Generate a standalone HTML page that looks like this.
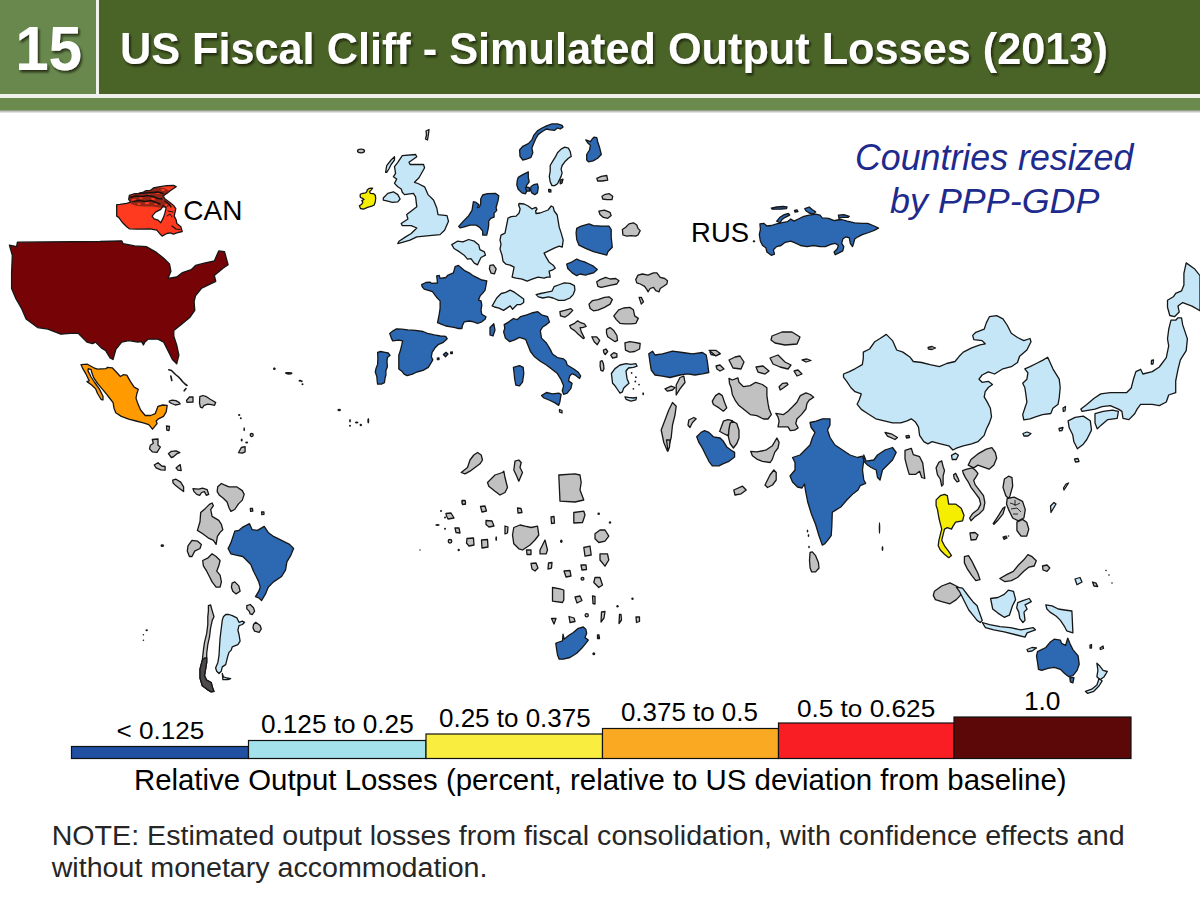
<!DOCTYPE html>
<html><head><meta charset="utf-8">
<style>
html,body{margin:0;padding:0;background:#fff;}
body{width:1200px;height:898px;position:relative;overflow:hidden;font-family:"Liberation Sans",Arial,Helvetica,sans-serif;}
svg{position:absolute;left:0;top:0;font-family:"Liberation Sans",Arial,Helvetica,sans-serif;}
</style></head>
<body>
<svg width="1200" height="898" viewBox="0 0 1200 898">
<defs>
<filter id="ds" x="-5%" y="-20%" width="110%" height="150%"><feDropShadow dx="1.6" dy="2.2" stdDeviation="1.3" flood-color="#0a1400" flood-opacity="0.75"/></filter>
<linearGradient id="shd" x1="0" y1="0" x2="0" y2="1"><stop offset="0" stop-color="#000" stop-opacity="0.35"/><stop offset="1" stop-color="#000" stop-opacity="0"/></linearGradient>
</defs>
<rect x="0" y="0" width="1200" height="98" fill="#f0f0ec"/>
<rect x="0" y="0" width="96" height="94" fill="#68884e"/>
<rect x="99" y="0" width="1101" height="94" fill="#4a6427"/>
<rect x="0" y="98" width="1200" height="12.5" fill="#6b8b4e"/>
<rect x="0" y="110.5" width="1200" height="3" fill="url(#shd)"/>
<text x="15.14" y="70" font-size="62.32" font-weight="bold" textLength="66.93" lengthAdjust="spacingAndGlyphs" fill="#fff" filter="url(#ds)">15</text>
<text x="119.9" y="63.5" font-size="45.0" font-weight="bold" textLength="987.96" lengthAdjust="spacingAndGlyphs" fill="#fff" filter="url(#ds)">US Fiscal Cliff - Simulated Output Losses (2013)</text>
<g id="legend" stroke="#111" stroke-width="1.2">
<rect x="71.5" y="746.5" width="177" height="12" fill="#2150a3"/>
<rect x="248.5" y="740.5" width="177.5" height="18" fill="#a3e2ea"/>
<rect x="426" y="734" width="176.5" height="24.5" fill="#f9ed3f"/>
<rect x="602.5" y="728.5" width="176" height="30" fill="#faaa22"/>
<rect x="778.5" y="723" width="175.5" height="35.5" fill="#f91d24"/>
<rect x="954" y="717" width="177" height="41.5" fill="#5c0808"/>
</g>
<g id="map" stroke="#161616" stroke-width="1.3" stroke-linejoin="round">
<path fill="#760406" d="M9.4,245.1 16.6,246.6 17.4,242.2 100,241.5 121.7,240.8 123.2,243.7 134.7,245.9 146.3,246.6 156.4,252.4 163.7,258.2 169.5,263.9 170.9,271.2 168,278.4 176.7,277 182.5,272.6 191.2,269.7 195.5,265.4 204.2,263.2 214.3,261 218.7,250.9 224.5,251.6 228.1,264.7 223,268.3 214.3,275.5 215.8,281.3 210,284.2 201.3,288.5 195.5,295.8 194.1,301.6 194.8,310.3 189.7,317.5 181,324.7 173.8,330.5 173.8,336.3 176.7,345 178.9,355.1 176.7,363.8 172.4,359.5 168,350.8 163.7,342.1 157.9,339.2 148,339.2 145,342 143.4,345 141.5,341.5 137.6,342.1 128.9,340.6 121.7,342.1 115.9,349.3 113,359.5 110.1,358 105.8,350.8 101.3,347.9 95.5,342.1 92.6,343.6 86.9,342.1 78.2,333.4 70.9,333.4 60.8,334.2 47.8,329.1 37.6,327.6 26.1,319 21.7,308.8 15.9,298.7 11.6,288.6 11.6,272.6 12.3,255.3Z"/>
<path fill="#ff3a1e" d="M116.7,204.7 116.7,216.1 118.7,217.4 122.7,222.8 126.7,226.8 129.4,228.8 136.7,229.1 150.1,228.8 156.8,230.1 160.8,234.8 162.1,236.1 166.8,233.5 170.2,232.8 173.5,234.1 176.8,232.8 182.2,231.5 180.9,226.8 176.8,223.4 176.2,220.1 174.2,216.1 175.8,208.7 173.5,205.4 170.2,202.7 167.5,200.7 164.8,198.7 162.8,196 166.8,193.4 170.2,190.7 176.2,186.7 173.5,185.3 166.8,185.7 160.1,186.7 153.4,188 150.1,190.7 146.1,190.7 143.4,192 138.7,193.4 133.4,194 129.4,195.4 128.7,199.4 130.7,202.1 126.7,203.4 120,204.4Z"/>
<path fill="#ffffff" d="M152.1,216.1 155.5,212.1 160.8,209.4 163.5,205.4 166.1,208.1 164.8,213.4 163.5,217.4 162.1,220.1 160.8,222.8 158.1,220.1 154.1,218.8Z"/>
<path fill="#ff9a00" d="M81,364.6 87.4,364.2 93.8,367.8 97.5,369.2 105.7,368.7 107.6,367.4 112.2,367.8 115.8,371.5 120.4,376.5 123.2,374.7 126.8,375.2 130.5,381.6 134.2,387.1 138.3,389.4 136.9,393.5 136,398.1 137.8,403.6 140.6,410 145.2,415.5 150.7,415.5 155.2,413.7 158,406.3 162.6,405 167.2,405.4 166.2,411.8 163.5,416.4 158,419.2 156.2,421 157.1,423.7 152.5,429.2 148.8,424.7 143.3,422.8 136,421 128.7,419.2 121.3,416.4 115.8,412.7 114,408.2 113.1,402.7 110.3,399 106.7,394.4 103,389.8 97.5,383.4 93.8,377.9 92,373.3 91.1,369.7 88.3,368.7 87.9,370.6 91.1,377 94.7,382.5 99.3,388.9 103,396.2 103,399.9 101.2,399.5 97.5,393.5 95.7,388.9 92,385.2 87,381.6 89.2,380.7 87.4,377 85.6,373.3 82.8,368.7Z"/>
<path fill="#c1c1c1" d="M169.2,401 172.2,400.1 175.9,400.7 179,402.3 180.2,403.8 178.4,404.4 175.3,405 171.6,403.5 169.5,402.3Z"/>
<path fill="#c1c1c1" d="M186.5,400.5 189.5,397 193,397 193,402 187,402.3Z"/>
<path fill="#c1c1c1" d="M199.8,396.7 202.9,395.5 206.5,396.7 210.2,399.2 213.3,401 215.7,402.6 214.5,405.3 211.4,404.7 207.8,404.1 204.1,405.3 202.3,407.8 200.4,407.2 199.5,402.9Z"/>
<path fill="#c1c1c1" d="M152.3,439.5 158,439 158,445.2 160.4,447 157,452.3 152.3,451.8 149.5,448.9 150.4,445.2 153.3,443.3Z"/>
<path fill="#c1c1c1" d="M168.4,453.7 171.3,451.3 176,450.8 179.8,452.7 176.9,453.7 173.1,457 171.3,457.5Z"/>
<path fill="#c1c1c1" d="M154.2,465 158,462.7 161.8,466 165.1,466.5 165.1,470.2 160.8,469.8 156.1,467.9Z"/>
<path fill="#c1c1c1" d="M176,467.9 180.2,464.6 181.2,470.7 177.9,470.2Z"/>
<path fill="#c1c1c1" d="M172.7,480.2 176,479.2 180.7,482.1 183.6,486.8 183.6,491.6 179.8,488.7 175,484.9 173.1,483Z"/>
<path fill="#c1c1c1" d="M193,488.7 198.7,489.2 202.5,488.2 207.2,489.7 208.7,494.4 206.3,495.3 204.4,491.6 201.6,492.5 199.7,495.3 196.8,494.4 194,491.6Z"/>
<path fill="#c1c1c1" d="M217.7,486.8 221.4,483.5 224.3,484.9 229,486.8 236.6,486.8 242.3,490.6 244.2,494.4 242.3,500.1 238.5,503.9 234.7,509.5 230.9,511.4 229,507.7 227.1,502 223.3,498.2 219.5,495.3 217.2,491.6Z"/>
<path fill="#c1c1c1" d="M238.5,452.7 241.3,447.5 245.1,446.6 245.1,451.8 242.3,453.2Z"/>
<path fill="#c1c1c1" d="M166.5,426 169.5,426.5 169,430.5 166.8,430Z"/>
<path fill="#c1c1c1" d="M212.1,503 213.4,505.7 210.7,509.7 212.1,516.4 218.8,520.4 221.4,524.4 222.8,529.7 220.1,532.4 217.4,536.4 216.1,544.4 213.4,540.4 208.1,537.8 202.7,533.8 197.4,530.4 200,521.7 200.7,512.4 205.4,508.4 209.4,504.4Z"/>
<path fill="#c1c1c1" d="M188,545.8 192,540.4 197.4,541.1 201.4,544.4 200,548.5 194.7,551.1 192,556.5 189.4,556.5 187.3,551.1Z"/>
<path fill="#c1c1c1" d="M202.7,560.5 208.1,557.8 212.1,553.8 216.1,556.5 220.1,560.5 218.8,565.8 216.7,571.2 220.1,575.2 221.4,581.9 220.1,587.2 216.1,587.2 212.1,581.9 209.4,576.5 206.7,571.2 203.4,565.8Z"/>
<path fill="#c1c1c1" d="M232.1,583.2 234.8,581.9 238.8,585.9 240.1,591.2 236.1,593.9 232.8,591.2 231.4,587.2Z"/>
<path fill="#2d68b3" d="M228.1,548.5 230.8,543.1 234.8,531.1 238.8,530.4 242.8,527.1 249.5,523.7 252.2,529.7 257.5,530.4 264.2,526.4 268.2,532.4 273.5,536.4 281.6,540.4 289.6,544.4 293.6,548.5 290.9,555.1 286.9,561.8 285.6,569.8 281.6,576.5 273.5,581.9 268.2,587.2 265.5,593.9 261.5,600.6 258.8,597.9 255.5,596.6 258.8,591.2 260.2,587.2 258.8,581.9 256.2,576.5 253.5,571.2 250.8,564.5 246.8,560.5 242.8,556.5 236.1,555.1 230.8,553.8Z"/>
<path fill="#c1c1c1" d="M246.8,605.6 250.2,604.5 253.5,607.8 254.6,611.1 252.4,614.5 250.2,613.9 249.1,611.1 246.8,608.9Z"/>
<path fill="#c1c1c1" d="M253.5,624.5 255.7,622.3 260.2,625.6 261.3,629 259.1,632.3 254.6,631.2 253,627.9Z"/>
<path fill="#c5e6f6" d="M225.7,614.5 229,614.5 232.3,615.6 236.8,617.8 239,622.3 242.4,621.2 244.6,622.3 242.4,624.5 239,625.6 237.9,630.1 239,634.5 240.1,641.2 237.9,644.6 232.3,646.8 231.2,650.1 229,652.4 227.9,655.7 226.8,660.2 225.7,664.6 222.3,666.9 221.2,671.3 219,673.5 216.7,671.3 215.6,668 217.9,662.4 219,655.7 219.5,646.8 220.1,637.9 221.2,629 222.3,620.1 223.4,616.7Z"/>
<path fill="#c5e6f6" d="M222.3,673.5 223.4,676.9 226.8,678 230.7,678.6 227.9,679.7 222.9,679.7Z"/>
<path fill="#c1c1c1" d="M208.4,605.6 210.6,605 212.3,611.1 214,616.7 212.3,620.1 210.6,627.9 209.5,636.8 207.8,644.6 206.7,653.5 206.7,662.4 205.6,669.1 204.5,675.8 206.7,680.2 211.2,682.5 212.3,686.9 214,691.4 211.2,691.9 206.7,689.1 202.3,685.8 200,678 200,669.1 202.3,660.2 203.4,650.1 204.5,642.3 206.7,633.4 207.8,624.5 207.8,616.7 208.4,611.1Z"/>
<path fill="#4e4a4a" d="M204.5,658 206.8,658 206.7,662.4 205.6,669.1 204.5,675.8 206.7,680.2 211.2,682.5 212.3,686.9 214,691.4 211.2,691.9 206.7,689.1 202.3,685.8 200,678 200,669.1 202.3,660.2Z"/>
<path fill="#c1c1c1" d="M250.3,508.3 252.5,508.5 252.8,511 250.6,511.4Z"/>
<path fill="#c1c1c1" d="M261.6,511.8 263.9,512 264,514.4 261.8,514.6Z"/>
<path fill="#f5ee00" d="M360.5,194 362.9,193.3 365.6,192.9 366.8,191.7 367.2,190.1 369.1,188.4 372.6,188.2 371.1,190.1 369.5,191.7 370.3,193.3 373.4,193.6 375.3,195.2 375.7,198.3 375.3,201.8 374.2,205 371.8,206.1 367.5,207.3 363.6,209.2 360.5,208.5 359.4,205.7 361.7,204.2 362.9,202.2 361.7,200.7 364,199.5 362.5,198.3 360.5,197.5 360.1,195.6Z"/>
<path fill="#c5e6f6" d="M402.3,155.6 415.6,154.5 416.8,156.7 409,162.3 410.1,164.5 423.5,164.5 424.6,167.8 419,177.8 414.5,182.3 418,183.5 424.6,186.8 428,194.6 433.5,200 436.8,208 438,214.6 447,215.7 448.5,221.3 444.6,230.2 440,234.6 426.8,235.8 416.8,236.9 410,240.2 402.3,242.4 397.8,243.6 399,241.3 405.6,236.9 411.2,233.5 416.8,228 411.2,225.7 402.3,225.7 401.2,223.5 407.9,219 406.7,214.6 412.3,210.2 416.8,206.8 415.6,196.8 413.4,193.4 404.5,194.6 402.3,192.3 401.2,189 397.8,186.8 394.5,183.4 396.7,179 393.4,176.7 395.6,173.4 394.5,166.7 397.8,162.3Z"/>
<path fill="#c5e6f6" d="M385.6,172.3 386.7,165.6 391.1,160 394.5,156.7 394.5,160 391.1,164.5 388.9,169 386.7,172.3Z"/>
<path fill="#c5e6f6" d="M383.3,198 387.8,193.4 393.4,191.8 397.8,194.6 400.1,199 397.8,201.8 392.3,202.3 387.8,201.2 383.3,200.1Z"/>
<path fill="#c1c1c1" d="M426,131 429,129.5 428.5,134 427.5,140 425.5,139 426.5,135Z"/>
<path fill="#2d68b3" d="M458.7,226.4 463.4,221.1 468.7,215.7 472,210.4 473.4,201.7 476.1,202.4 478.7,204.4 477.4,207.7 479.4,207 480.7,203.7 480.7,199 482.7,195 487.4,193.7 495.4,193.4 498.8,195.7 498.1,200.4 496.8,205 496.1,207.7 496.8,210.4 494.1,213.1 494.1,217.1 490.7,218.4 488.7,221.1 488.7,225.1 488.1,229.1 486.7,235.1 482.7,235.1 482.7,231.1 480.1,227.8 476.1,225.1 470,225.1 463.4,227.1 460,227.8Z"/>
<path fill="#c5e6f6" d="M451.8,244.6 457.4,241.2 463,241.8 468.6,239.5 474.3,241.2 478.8,245.1 479.9,249.6 484.4,251.9 485.5,255.2 481,257.5 478.8,262 477.6,264.8 474.3,263.1 470.9,258.6 467.5,259.2 464.1,255.2 459.6,251.9 454,248.5Z"/>
<path fill="#c1c1c1" d="M490,265.4 493.4,264.8 496.2,268.8 494.5,273.8 491.1,273.2 489.4,268.8Z"/>
<path fill="#c5e6f6" d="M519.1,203.5 524.1,204 528.1,206 532.1,209 534.1,208 536.1,207.5 537.1,209 535.6,211 536.1,213.5 540.1,213 544.1,211.5 548.1,210 551.2,206 553.2,207 554.2,211 557.2,215 558.2,221.1 559.2,227.1 561.2,233.1 563.2,240.1 562.2,247.1 559.2,246.1 554.2,248.1 548.1,251.1 544.1,253.1 546.1,257.2 549.1,262.2 553.2,265.2 555.2,268.2 552.2,270.2 549.1,271.2 550.2,277.2 547.1,277.2 544.1,278.2 538.1,277.2 532.1,279.2 527.1,281.2 522.1,279.2 516.1,278.2 512.1,277.2 513.1,272.2 514.1,267.2 510.1,265.2 506,264.2 503,261.2 502,255.2 500,249.1 501,244.1 500,240.1 501,235.1 505,233.1 506,228.1 507,223.1 508,218.1 511.1,216.6 516.1,216.1 519.1,213 520.1,209 518.6,205Z"/>
<path fill="#2d68b3" d="M517.3,180.1 518.2,177.4 522.8,174.6 526.4,172.8 528.3,171.9 528.3,177.4 529.2,181.9 526.4,185.6 527.4,190.1 525.5,193.8 521.9,192.9 518.2,189.2 516.8,184.7Z"/>
<path fill="#2d68b3" d="M525.5,187.4 529.2,187.4 529.6,191.1 526.4,191.1Z"/>
<path fill="#2d68b3" d="M531,186.5 533.7,184.7 537.4,183.8 538.3,187.4 537.4,192.9 534.7,194.7 531.9,192.9 530.5,190.1Z"/>
<path fill="#2d68b3" d="M519.6,150 522.8,146.3 528.3,143.6 531.9,139.9 533.7,135.4 537.4,130.8 542,128 546.5,125.8 552,123.9 557.5,123.9 562.1,125.3 563,127.1 560.2,129 557.5,128 554.7,130.3 550.2,129.9 546.5,129 542,131.7 538.3,134.4 535.6,139 533.7,143.6 531.9,148.1 532.8,152.7 531,157.3 526.4,159.1 522.8,160 520,156.4Z"/>
<path fill="#c5e6f6" d="M550.2,165.5 552.9,160.9 555.7,156.4 557.5,152.7 561.1,149.1 564.8,147.2 568.4,148.1 570.3,151.8 571.2,156.4 568.4,158.2 564.8,161.8 562.1,165.5 561.1,169.1 562.1,172.8 561.1,176.4 559.3,180.1 557.5,183.8 554.7,185.6 552,185.6 550.2,181.9 549.3,176.4 550.2,171Z"/>
<path fill="#2d68b3" d="M560.2,180.1 563,179.2 562.1,182.8 560.2,183.8Z"/>
<path fill="#2d68b3" d="M548.6,189.4 550.8,189.6 550.9,192 548.8,191.8Z"/>
<path fill="#2d68b3" d="M585.8,139.9 588.5,140.8 590.4,141.7 592.2,139 594,137.2 596.8,137.6 597.7,141.7 599.5,147.2 601.3,154.5 597.7,158.2 593.1,160.9 588.5,161.8 586.7,160 586.7,154.5 589.5,150 590.4,145.4 587.6,142.7Z"/>
<path fill="#c1c1c1" d="M596.8,178.3 601.3,176.4 606.8,175.5 607.7,180.1 602.2,181 597.7,181Z"/>
<path fill="#c1c1c1" d="M602,196.3 605.3,194.3 609.3,193.7 612.7,196.3 612,199.7 606.7,199.7 602.7,199Z"/>
<path fill="#c1c1c1" d="M598.9,211.2 604.5,210.1 610,212.3 611.2,215.6 607.8,218.3 603.4,217.4 600,214.5Z"/>
<path fill="#c1c1c1" d="M622.4,229.5 625.7,227.2 629,223.9 633.5,222.8 636.8,225 638,228.4 640.2,230.6 638,235 635.7,236.2 631.3,235.6 626.8,236.2 622.9,235Z"/>
<path fill="#2d68b3" d="M576.7,228.4 581.2,226.1 589,223.9 593.4,225.6 601.2,226.1 609,226.1 611.2,229.5 611.2,237.3 612.3,247.3 607.9,251.7 606.8,255.1 600.1,253.4 593.4,251.7 585.6,248.4 578.9,245.1 576.7,239.5 576.1,232.8Z"/>
<path fill="#2d68b3" d="M566.7,264 572.2,261.8 576.7,259 580,260.7 584.5,261.8 589,264 593.4,266.2 597.3,269.6 593.4,272.9 589,274 585.6,275.1 580,274 576.7,275.7 572.2,272.9 567.8,268.5Z"/>
<path fill="#c1c1c1" d="M596.7,281.8 600.1,279.6 605.7,277.4 610.1,279 615.7,278.5 619,280.7 616.8,284 611.2,285.2 605.7,286.3 601.2,287.4 597.9,286.3Z"/>
<path fill="#c5e6f6" d="M536.1,294.6 540.6,293.5 546.2,292.4 551.9,291.2 554.1,286.7 559.8,284.5 564.3,282.8 569.9,283.4 574.4,285.6 574.9,290.1 573.2,294.6 569.9,298 564.3,300.3 558.6,300.3 553,298 548.5,296.9 542.9,298 538.4,296.9Z"/>
<path fill="#c5e6f6" d="M492.2,305.9 496.7,298 501.2,293.5 505.7,292.4 510.2,290.1 514.7,292.4 519.2,295.7 523.7,299.1 523.7,302.5 520.4,304.7 517,304.7 512.5,309.2 510.2,305.9 506.9,308.1 503.5,310.4 499,308.1 494.5,307Z"/>
<path fill="#c1c1c1" d="M589,304.1 592.3,300.7 597.9,299.6 604.5,297.4 609,296.8 612.3,299.6 610.1,304.1 604.5,307.4 597.9,310.2 593.4,310.8 590.1,308.5Z"/>
<path fill="#c1c1c1" d="M559.9,311.6 564.8,310.4 570.9,308.6 572.8,310.4 568.5,314.7 564.8,317.2 560.5,315.9Z"/>
<path fill="#c1c1c1" d="M635.7,279.6 638,275.1 642.4,274 648,275.1 653.5,272.9 656.9,272.9 660.2,277.4 664.7,278.5 667.5,280.7 666.9,284 663.6,286.3 660.2,288.5 659.1,291.8 655.8,290.7 653.5,287.4 650.2,288.5 648,291.8 646.9,289.6 644.6,286.3 640.2,284 636.8,282.9Z"/>
<path fill="#c1c1c1" d="M639.1,297.4 641.3,297.4 643.5,301.9 641.3,304.1Z"/>
<path fill="#c1c1c1" d="M613.8,315.9 618.7,309.8 623.6,308 629.8,307.4 633.4,309.8 634.7,315.9 638.3,318.4 635.9,323.3 631,323.9 624.9,323.9 620,323.3 616.3,319.6Z"/>
<path fill="#c1c1c1" d="M606.5,329.4 610.1,327.6 613.8,330.6 616.9,335.5 617.5,340.4 615,341.7 611.4,339.2 607.7,336.8 606.5,333.1Z"/>
<path fill="#c1c1c1" d="M624.9,342.9 629.8,341.7 634.7,342.3 640.2,343.5 639.6,349 634.7,351.5 629.8,352.1 625.5,350.2Z"/>
<path fill="#c1c1c1" d="M591.8,336.8 596.7,336.8 599.7,340.4 597.3,344.7 594.2,341.7Z"/>
<path fill="#c1c1c1" d="M569.7,325.7 574.6,323.3 577.7,320.8 580.7,322.7 584.4,323.9 586.2,326.3 582.6,327.6 580.1,327.6 581.3,331.9 584.4,338 583.2,338.6 578.3,334.3 574.6,330.6 570.9,328.2Z"/>
<path fill="#c1c1c1" d="M603.4,350.2 605.9,349 607.7,351.5 605.2,354.5 603.8,352.7Z"/>
<path fill="#c1c1c1" d="M610.8,355.1 613.8,352.7 616.9,353.9 616.9,357 612.6,358.2Z"/>
<path fill="#c1c1c1" d="M600.3,361.3 602.2,360.7 603.4,363.7 604,368.6 602.8,371.1 601,370.5 600.1,366.2Z"/>
<path fill="#c5e6f6" d="M611.4,373.5 615,368.6 620,365 626.1,363.7 631,364.3 635.9,363.7 637.1,366.2 633.4,367.4 628.5,368 626,371 626.5,375 627,378.4 628,380.9 629,383.3 626.1,385.8 623.6,388.2 622.4,391.9 620,393.1 617.5,389.5 615,385.8 612.6,383.3 612,378.4Z"/>
<path fill="#c5e6f6" d="M624.9,396.8 628.5,397.4 633.4,398 636.5,397.4 635.9,399.9 631,401.1 626.1,399.3Z"/>
<path fill="#2d68b3" d="M421.7,284.6 425.9,282.5 430,282.1 431.7,283.4 437.5,283 436.7,275.9 439.2,275.4 440.1,278.4 445.9,277.5 447.6,275.4 453.4,272.9 455.1,266.7 458.4,265.4 460.9,267.5 465.1,270.9 470.1,273.4 473.5,275.9 478.5,278.4 481.8,280 486.8,280.9 486,285.1 485.1,290.1 482.6,293.4 480.1,295.9 478.5,300.1 481,300.9 481.8,305.1 481,310.1 481.8,314.3 486,316.8 485.1,319.3 481.8,321.8 477.6,323.5 473.5,321.8 469.3,321 464.3,321.8 462.6,325.1 461.8,328.5 458.4,328.5 455.1,327.6 450.9,326.8 445.9,326 441.7,324.3 437.5,322.6 438.4,318.5 439.2,314.3 440.1,308.4 440.1,300.9 437.5,298.4 435,295.1 432.5,291.7 427.5,290.1 424.2,289.2 422.1,286.7Z"/>
<path fill="#2d68b3" d="M490,327.5 493.8,323.8 495,330 493,336 490,335Z"/>
<path fill="#2d68b3" d="M389.7,333.4 392.7,331.1 396.5,328.8 401.8,329.2 407.9,329.9 415.4,330.3 423,331.5 427.5,333.4 434.3,334.9 440.4,336 445.7,336.4 447.2,338.7 443.4,342.4 438.1,344.7 435.1,347.7 432.1,352.3 431.3,356.8 432.8,359.9 430.6,363.6 428.3,367.4 423,370.4 416.9,372 412.4,374.2 407.1,375.7 404.1,374.2 401.8,371.2 398.8,368.9 398.8,362.9 398.8,355.3 400.3,350.8 401.8,344.7 402.6,340.9 398.8,340.2 392.7,340.9 391.2,337.9Z"/>
<path fill="#2d68b3" d="M377.6,352.3 380.6,351.5 385.1,352.3 388.2,353 390.1,355.3 387.4,357.6 387,361.4 387.4,366.7 385.9,370.4 385.9,375 385.1,378 384.4,382.6 381.4,384.1 377.6,384.1 377.2,381 376.8,376.5 375.3,372 376.1,368.2 377.6,364.4 377.9,358.3Z"/>
<path fill="#2d68b3" d="M443.4,354.5 446,352.3 448,354 445.5,356.8Z"/>
<path fill="#2d68b3" d="M437.3,358.2 439,357.8 439,359.5 437.5,359.6Z"/>
<path fill="#2d68b3" d="M450.6,352.2 452.3,351.9 452.3,353.5 450.8,353.6Z"/>
<path fill="#2d68b3" d="M504.2,324.6 508.5,322.1 513.4,318.5 517,319.7 520.7,316.6 526.8,314.8 531.7,313 537.8,311.7 541.5,314.8 547.6,316.6 549.5,322.1 546.4,324.6 542.7,327 540.3,330.7 541.5,338.1 546.4,343 550.1,349.1 552.5,354 557.4,357.6 563.6,358.9 566,361.3 567.2,365 573.4,368.7 578.3,372.3 580.7,376 579.5,378.5 575.8,375.4 572.1,373.6 569.7,376 568.5,380.9 572.1,383.4 570.9,388.3 567.2,393.1 563.6,394.4 562.3,390.7 563.6,385.8 561.1,379.7 557.4,373.6 551.3,368.7 546.4,365 540.3,361.3 534.2,356.4 530.5,351.5 528.1,345.4 525.6,339.3 519.5,337.4 514.6,339.9 509.7,341.7 505.4,338.1 503.6,331.9 504.8,328.3Z"/>
<path fill="#2d68b3" d="M513.4,367.4 519.5,365.6 523.2,367.4 523.8,373.6 522.5,382.1 519.5,385.8 515.8,385.2 514.6,378.5 514,372.3Z"/>
<path fill="#2d68b3" d="M541.5,395.6 546.4,392.5 552.5,393.8 558.7,393.1 561.1,394.4 559.9,401.7 558.7,405.4 555,402.9 550.1,400.5 544,398Z"/>
<path fill="#2d68b3" d="M759.9,223.8 763.7,223.3 766.9,226 771.3,225.5 776.7,223.8 781,222.8 787.5,221.7 790.8,219 794,221.1 798.3,219 803.8,216.3 809.2,215.2 815.7,214.1 820,215.2 822.2,217.9 828.7,218.4 834.1,220.6 837.3,220 841.7,219.5 847.1,221.1 854.7,222.8 862.3,223.3 867.7,223.3 874.2,226 878.5,228.2 874.2,230.3 868.8,232.5 862.3,234.7 857.9,236.8 854.7,239 853.6,243.3 852.5,246.6 850.3,243.3 849.3,237.9 846,236.8 842.8,239 841.7,243.3 843.8,246.6 842.8,250.9 838.4,253.1 835.2,254.7 834.1,252 837.3,248.8 838.4,245.5 835.2,243.3 830.8,244.4 825.4,246.6 820,246.6 813.5,245.5 807,246.6 800.5,245.5 796.2,243.3 790.8,241.2 785.3,242.3 781,245.5 776.7,246.6 773.4,249.8 774.5,254.2 771.3,255.3 766.9,252 765.8,247.7 762.6,245.5 760.4,241.2 759.3,234.7 760.4,229.3Z"/>
<path fill="#2d68b3" d="M771.3,208.1 776.7,207 783.2,206.5 787,207 786.4,208.7 781,209.2 772.3,209.2Z"/>
<path fill="#2d68b3" d="M776.7,221.1 779.9,217.3 784.3,214.6 788.6,213.5 789.7,215.2 785.3,217.3 782.1,219.5 779.9,222.8Z"/>
<path fill="#2d68b3" d="M804.8,208.7 809.2,207 812.4,209.8 815.7,211.9 813.5,214.1 809.2,213 805.9,210.8Z"/>
<path fill="#2d68b3" d="M838.4,215.2 843.8,214.6 849.3,216.3 848.2,217.3 841.7,217.3 839,218.4Z"/>
<path fill="#2d68b3" d="M794.5,210.5 797,209.8 798,211.5 795,212Z"/>
<path fill="#2d68b3" d="M648.8,353.8 652.5,351.2 655,355 662.5,353.8 672.5,351.2 682.5,352.5 692.5,353.8 702.5,352.5 706.2,355 707.5,362.5 708.8,372.5 702.5,373.8 695,375 687.5,373.8 680,375 670,377.5 662.5,376.2 655,375 651.2,370 650,362.5Z"/>
<path fill="#c1c1c1" d="M665,388.8 671.2,386.2 675,387.5 672.5,390 667.5,391.2Z"/>
<path fill="#c1c1c1" d="M676.2,385 680,377.5 683.8,376.2 685,382.5 680,388.8 676.2,395Z"/>
<path fill="#c1c1c1" d="M672.5,402.5 676.2,406.2 675,415 672.5,425 671.2,437.5 667.5,451.2 663.8,442.5 661.2,430 665,420 668.8,410Z"/>
<path fill="#c1c1c1" d="M688.8,420 693.8,417.5 696.2,418.8 692.5,422.5 690,427.5 688,425Z"/>
<path fill="#2d68b3" d="M696.7,436.8 701.1,432.4 704.5,430.7 708.9,432.4 713.4,436.8 720.1,438 723.4,441.3 726.8,446.9 731.2,450.2 734.6,452.4 734.6,456.9 729,461.3 723.4,463.6 719,465.8 712.3,465.8 708.9,461.3 705.6,454.7 702.3,448 698.9,442.4Z"/>
<path fill="#c1c1c1" d="M712.3,401.2 715.6,395.6 719,393.4 722.3,395.6 724.5,402.3 726.8,407.9 723.4,411.2 719,407.9 713.4,404.5Z"/>
<path fill="#c1c1c1" d="M720.1,430.2 723.4,421.2 727.9,419.6 732.3,420.7 730.1,425.7 729,432.4 727.9,435.7 723.4,433.5 719.5,431.3Z"/>
<path fill="#c1c1c1" d="M730.1,423.5 732.3,421.2 736.8,423.5 739,430.2 739,438 736.8,443.5 733.4,448 730.1,443.5 728.4,436.8 729,429Z"/>
<path fill="#c1c1c1" d="M729,378.4 732.3,380 737.9,377.8 739,382.3 743.5,386.7 750.2,385.6 755.7,382.3 762.4,384.5 766.9,387.8 766.9,395.6 768,403.4 769.1,409 771.3,414.6 768,419 763.5,419 756.8,415.7 750.2,414.6 744.6,410.1 739,405.6 735.7,401.2 732.3,394.5 731.2,387.8 729.5,383.4Z"/>
<path fill="#c1c1c1" d="M710,352 715,351 720,354 716,355.5 711,354.5Z"/>
<path fill="#c1c1c1" d="M716,366 720,365 724,369 720,371 717,369Z"/>
<path fill="#c1c1c1" d="M729,360 735,357 740,356 744,362 741,369 733,368Z"/>
<path fill="#c1c1c1" d="M756,367 763,366 769,371 765,374 758,372Z"/>
<path fill="#c1c1c1" d="M770,358 778,355 785,362 791,365 788,369 780,367 773,364Z"/>
<path fill="#c1c1c1" d="M772,336 782,332 792,332 800,337 797,344 785,345 775,343 771,340Z"/>
<path fill="#c1c1c1" d="M802,360 807,359 811,360.5 806,362Z"/>
<path fill="#c1c1c1" d="M794,371 798,370 802,374 797,376Z"/>
<path fill="#c1c1c1" d="M779.1,386.7 782.5,383.4 786.9,382.8 788,384.5 783.6,387.8 780.2,390Z"/>
<path fill="#c1c1c1" d="M709.1,350.3 715.8,350.3 720.2,353.6 715.8,355.9Z"/>
<path fill="#c1c1c1" d="M775.8,413.4 783.6,414.6 788,411.2 792.5,406.8 796.9,402.3 800.3,395.6 805.9,392.8 810.3,394.5 813.7,397.3 809.2,400.1 807,403.4 805.9,409 801.4,414.6 796.9,419 795.8,423.5 798.1,427.9 794.7,430.2 790.3,430.7 788,426.8 783.6,426.8 778,426.8 779.1,421.2 778,416.8Z"/>
<path fill="#c1c1c1" d="M750.7,451.3 756.8,451.9 765.7,450.2 772.4,445.7 776.9,438 779.1,442.4 778,448 774.7,452.4 772.4,459.1 770.2,462.5 762.4,461.3 756.8,459.1 752.4,455.8Z"/>
<path fill="#c1c1c1" d="M765,485 770,475 773.8,470 776.2,472.5 776.2,480 772.5,485 767.5,487.5Z"/>
<path fill="#c1c1c1" d="M733.8,490 742.5,486.2 746.2,490 741.2,493.8 735,495Z"/>
<path fill="#2d68b3" d="M810,422.5 816.2,421.2 822.5,418.8 830,418.8 830,425 827.5,430 830,437.5 835,445 842.5,450 850,455 857.5,457.5 862.5,456.2 863.8,460 862.5,470 863.8,480 865.7,483.3 860.2,485.6 858,490 853.5,493.4 846.8,500 841.2,506.7 835.7,510.1 832.3,512.3 831.8,526.8 831.2,535.7 827.9,540.1 824.5,544 822.3,545.1 819,535.7 815.6,524.5 811.2,513.4 807.8,502.3 805.6,491.1 804.5,484 802,488 797.5,487 792.5,482 790,476 795,470 795,462.5 792.5,457.5 800,455 805,450 810,445 812.5,437.5 815,432.5 811.2,427.5Z"/>
<path fill="#2d68b3" d="M863.8,455 866.2,461.2 873.8,460 877.5,455 885,450 892.5,447.5 896.2,452.5 892.5,460 887.5,465 882.5,470 880,480 877.5,477.5 876.2,470 871.2,467.5 867.5,465 863.8,461.2Z"/>
<path fill="#c1c1c1" d="M885,432.5 891.2,433.8 897.5,437.5 895,439.5 887.5,436.2Z"/>
<path fill="#c1c1c1" d="M905,450.4 911.3,448.3 913.3,454.6 919.6,456.7 922.7,462.9 923.8,471.3 924.8,478.5 921.7,477.5 919.6,471.3 915.4,474.4 909.2,474.4 907.1,467.1 905,458.8Z"/>
<path fill="#c1c1c1" d="M936.1,467.9 938.9,462.3 941.7,460.9 943.1,466.5 944.5,470.6 943.1,476.2 943.1,484.6 941.7,486 940.3,479 937.5,474.8Z"/>
<path fill="#c1c1c1" d="M953.6,474.8 955.6,473.4 957.7,477.6 959.1,481.1 957,481.8 954.2,478.3Z"/>
<path fill="#c1c1c1" d="M810.1,552.4 812.3,551.8 815.6,555.7 818.4,562.4 819,568 815.6,571.9 811.7,571.9 810.1,568 809.5,560.2Z"/>
<path fill="#c5e6f6" d="M843.5,374 848.8,371.9 855,368.8 862.3,364.6 863.3,358.3 863.3,352.1 869.6,349 874.8,341.7 880,338.5 886.3,334.4 892.5,340.6 896.7,350 902.9,352.1 910.2,357.3 913.3,361.5 921.7,362.5 930,364.6 939.4,366.7 946.7,363.5 955,361.5 959.2,356.3 963.3,352.1 971.7,347.9 980,344.8 985.2,343.8 982.1,340.6 973.8,339.6 972.7,335.4 975.8,332.3 984.2,329.2 986.3,322.9 989.4,316.7 996.7,315.6 1002.9,318.8 1007.1,325 1011.3,333.3 1017.5,337.5 1023.8,340.6 1030,338.5 1031,341.7 1026.9,350 1019.6,356.3 1017.5,362.5 1011.3,366.7 1002.9,368.8 994.6,374 988.3,371.9 982.1,375 979,379.2 982.1,382.3 988.3,381.3 992.5,384.4 988.3,387.5 985.2,391.7 984.2,396.9 987.3,402.1 990.4,408.3 991.5,416.7 989.4,422.9 986.3,429.2 984.2,435.4 977.9,441.7 971.7,443.8 963.3,445.8 957.1,447.9 952.9,450 948.8,445.8 940.4,443.8 932.1,441.7 927.9,443.8 923.8,441.7 919.6,435.4 918.5,427.1 915.4,421.9 911.3,418.8 907.1,420.8 900.8,422.9 892.5,422.9 884.2,420.8 875.8,418.8 867.5,413.5 861.3,409.4 857.1,404.2 859.2,400 861.3,393.8 855,391.7 850.8,387.5 846.7,381.3 843.5,377.1Z"/>
<path fill="#c5e6f6" d="M951.5,455.3 955.6,453.2 958.4,455.3 956.3,459.5 952.2,459.5Z"/>
<path fill="#c1c1c1" d="M928,347.5 932,346.5 935.5,348 932,349.5 928.5,349Z"/>
<path fill="#c1c1c1" d="M906,436 909,435.5 909.5,437.5 906.5,438Z"/>
<path fill="#c5e6f6" d="M1024.8,368.8 1030,366.7 1036.3,363.5 1042.5,360.4 1047.7,357.3 1052.9,368.8 1059.2,379.2 1060.2,387.5 1059.2,397.9 1058.1,404.2 1052.9,408.3 1050.8,413.5 1042.5,414.6 1036.3,416.7 1030,418.8 1023.8,419.8 1022.7,414.6 1024.8,408.3 1026.9,402.1 1025.8,393.8 1024.8,387.5 1022.7,383.3 1026.9,379.2 1027.9,372.9Z"/>
<path fill="#c5e6f6" d="M1023,433.5 1027,432 1031,433.5 1028,436 1024,436Z"/>
<path fill="#c5e6f6" d="M1063,408 1065.5,406.5 1065,411 1063.3,411.5Z"/>
<path fill="#c5e6f6" d="M1059,428.5 1063,427.5 1062,430.5 1059.5,430.8Z"/>
<path fill="#c5e6f6" d="M1186.2,262.9 1194.4,268.7 1200,275.7 1200,310.8 1192,306.1 1182.7,302.6 1178,306.1 1179.2,312 1174.5,316.7 1169.8,315.5 1167.5,307.3 1167.5,300.3 1173.3,296.8 1175.7,293.3 1181.5,290.9 1183.9,285.1 1183.9,273.4Z"/>
<path fill="#c5e6f6" d="M1171,320.2 1175.7,320.2 1178,317.8 1181.5,317.8 1182.7,324.9 1187.4,338.9 1186.2,350.6 1180.4,359.9 1178,369.3 1175.7,381 1175.7,392.7 1168.7,395 1166.3,402 1159.3,405.6 1152.3,404.4 1145.3,404.4 1140.6,404.4 1137.1,409.1 1134.7,413.7 1128.9,419.6 1123,418.4 1121.9,411.4 1118.4,409.1 1110.2,405.6 1102,406.7 1095,409.1 1089.1,410.2 1082.1,411.4 1080.9,409.1 1086.8,404.4 1093.8,398.5 1100.8,393.9 1110.2,392.7 1119.5,392.7 1126.5,392.7 1131.2,388 1133.6,378.7 1135.9,371.6 1140.6,369.3 1142.9,374 1152.3,371.6 1159.3,367 1166.3,357.6 1168.7,345.9 1167.5,338.9 1168.7,329.5 1169.8,324.9Z"/>
<path fill="#c5e6f6" d="M1095,413.7 1103.2,411.4 1112.5,410.2 1118.4,411.4 1117.2,418.4 1107.8,419.6 1100.8,425.4 1097.3,428.9 1095,423.1Z"/>
<path fill="#c5e6f6" d="M1068.1,420.8 1075.1,417.3 1083.3,416.1 1090.3,420.8 1091.5,430.1 1086.8,439.5 1083.3,444.2 1077.4,448.8 1073.9,441.8 1072.7,434.8 1069.2,427.8Z"/>
<path fill="#c5e6f6" d="M1151.5,360.5 1153.5,360 1153,364 1151.3,364Z"/>
<path fill="#c5e6f6" d="M1074.5,459 1078,458.5 1079,461.5 1075.5,462Z"/>
<path fill="#c1c1c1" d="M968.2,465.1 971,459.5 977.9,453.9 986.3,449.1 991.9,447.7 995.3,452.5 996.7,458.1 993.9,465.1 989.1,469.2 983.5,467.2 977.9,465.1 973.7,467.9Z"/>
<path fill="#c1c1c1" d="M962.6,470.6 966.8,469.2 972.4,467.9 975.1,469.9 977.9,473.4 976.5,476.2 973.7,480.4 975.1,484.6 979.3,490.1 983.5,495.7 984.9,502.7 983.5,509.6 979.3,513.8 975.1,516.6 971,520.8 969.6,518 972.4,513.8 977.9,509.6 980.7,504.1 979.3,498.5 975.1,492.9 971,487.4 968.2,481.8 965.4,477.6 963.3,473.4Z"/>
<path fill="#f5ee00" d="M936.1,499.9 940.3,495.7 944.5,494.3 947.3,495.7 948.7,504.1 955.6,504.1 961.2,508.2 964,515.2 962.6,520.8 955.6,522.2 952.9,526.4 951.5,529.1 947.3,527.7 944.5,529.1 943.1,534.7 941.7,540.3 944.5,545.8 948.7,551.4 951.5,555.6 948.7,557.7 944.5,554.2 940.3,550 938.2,545.8 938.9,540.3 940.3,534.7 941.7,529.1 940.3,523.6 938.9,518 937.5,509.6 936.1,505.5Z"/>
<path fill="#c1c1c1" d="M970,533 975,532.5 978,535 976,539.5 971,540Z"/>
<path fill="#c1c1c1" d="M1004.4,479 1008.6,476.2 1012,477.6 1012.7,486 1010,495.7 1008.6,498.5 1005.8,495.7 1003,487.4Z"/>
<path fill="#c1c1c1" d="M1007.2,498.5 1014.1,497.1 1022.5,501.3 1025.3,509.6 1023.9,518 1018.3,520.8 1012.7,518 1008.6,509.6 1006.5,504.1Z"/>
<path fill="#c1c1c1" d="M1016.9,522.2 1022.5,519.4 1026.7,522.2 1028.8,529.1 1026.7,536.1 1021.1,536.1 1016.9,530.5Z"/>
<path fill="#c1c1c1" d="M993.2,523.6 998.8,515.2 1003,508.2 1005.1,506.9 1003,513.8 997.4,520.8 993.9,524.3Z"/>
<path fill="#c1c1c1" d="M1003,537 1006,536 1007,538 1004,539.3Z"/>
<path fill="#c1c1c1" d="M964.4,556.7 968.5,555.6 971.7,560.8 974.8,567.1 977.9,573.3 980,579.6 975.8,580.6 971.7,575.4 967.5,569.2 964.4,562.9Z"/>
<path fill="#c1c1c1" d="M999.8,578.5 1007.1,574.4 1013.3,571.3 1018.5,565 1023.8,559.8 1027.9,554.6 1032.1,556.7 1036.3,560.8 1034.2,566 1029,567.1 1023.8,571.3 1017.5,577.5 1011.3,580.6 1005,581.7Z"/>
<path fill="#c1c1c1" d="M1042.5,566 1047,565 1049.8,568 1047,571.3 1043,570Z"/>
<path fill="#c5e6f6" d="M1050.5,506 1054,502.5 1056,504 1053,509 1051,512.5Z"/>
<path fill="#c5e6f6" d="M1063.5,488 1066,484 1068.5,483 1066,487 1064,490Z"/>
<path fill="#c5e6f6" d="M1075,579 1080,577.5 1082,582 1077,584.8Z"/>
<path fill="#c1c1c1" d="M1092.5,582 1096,583 1097.7,586.5 1094,586Z"/>
<path fill="#c1c1c1" d="M934.4,591.3 941.7,586 950,582.9 956.3,586 961.5,589.2 960.4,595.4 956.3,599.6 950,603.8 941.7,601.7 935.4,599.6 933.3,595.4Z"/>
<path fill="#c5e6f6" d="M956.3,587.1 962.5,588.1 968.8,596.5 972.9,601.7 977.1,605.8 979.2,612.1 982.3,620.4 980.2,622.5 977.1,620.4 972.9,615.2 968.8,610 965.6,603.8 962.5,597.5 959.4,591.3Z"/>
<path fill="#c5e6f6" d="M982.3,622.5 989.6,624.6 1000,626.7 1010.4,627.7 1020.8,629.8 1033.3,627.7 1035.4,629.8 1027.1,632.9 1025,637.1 1016.7,635 1004.2,631.9 993.8,629.8 985.4,627.7Z"/>
<path fill="#c5e6f6" d="M990.6,598.5 997.9,597.5 1004.2,594.4 1008.3,590.2 1013.5,591.3 1015.6,599.6 1012.5,605.8 1009.4,615.2 1004.2,617.3 997.9,613.1 992.7,609Z"/>
<path fill="#c5e6f6" d="M1017.7,602.7 1022.9,600.6 1029.2,598.5 1031.3,601.7 1025,604.8 1027.1,609 1024,612.1 1025,620.4 1022.9,622.5 1019.8,618.3 1018.8,612.1 1016.7,607.9Z"/>
<path fill="#c5e6f6" d="M1045.8,604.8 1052.1,605.8 1058.3,609 1064.6,610 1071.9,611 1072.9,632.9 1066.7,630.8 1064.6,626.7 1060.4,620.4 1056.3,616.3 1050,612.1 1046.9,609Z"/>
<path fill="#c5e6f6" d="M1027,649.5 1032,647.5 1036.5,648 1032,651 1028,651.7Z"/>
<path fill="#2d68b3" d="M1037.5,651.7 1045.8,647.5 1050,642.3 1054.2,639.2 1060.4,640.2 1061.5,643.3 1065.6,645.4 1067.7,638.1 1069.8,643.3 1072.9,649.6 1078.1,655.8 1079.2,664.2 1077.1,670.4 1072.9,675.6 1068.8,676.7 1064.6,673.5 1060.4,669.4 1054.2,667.3 1047.9,668.3 1041.7,670.4 1038.5,669.4 1037.5,662.1 1036.5,655.8Z"/>
<path fill="#2d68b3" d="M1069.8,677.7 1074,677.7 1072.9,682.9 1070.4,681.9Z"/>
<path fill="#c5e6f6" d="M1096.9,663.1 1100,666.3 1103.1,670.4 1107.3,671.5 1104.2,676.7 1100,679.8 1096.9,676.7 1097.9,670.4Z"/>
<path fill="#c5e6f6" d="M1099,678.8 1096.9,685 1091.7,689.2 1085.4,691.3 1087.5,693.3 1093.8,691.3 1099,686 1102.1,680.8Z"/>
<path fill="#c5e6f6" d="M1090,645 1091.5,644.5 1091.5,648 1090,648Z"/>
<path fill="#c5e6f6" d="M1100,648 1103,646 1103.5,648.5 1100.5,649.5Z"/>
<path fill="#c1c1c1" d="M461.2,472.5 467.5,467.5 470,460 473.8,455 477.5,452.5 481.2,455 482.5,460 480,463.8 475,467.5 470,471.2 465,473.8Z"/>
<path fill="#c1c1c1" d="M487.5,482.5 495,475 502.5,472.5 503.8,471.2 505,477.5 507.5,487.5 505,492.5 500,495 495,491.2 488.8,486.2Z"/>
<path fill="#c1c1c1" d="M515,461.2 518.8,460 521.2,462.5 520,467.5 522.5,472.5 518.8,481.2 516.2,475 513.8,470Z"/>
<path fill="#c1c1c1" d="M558.8,475 575,473.8 580,475 581.2,482.5 580,490 583.8,500 575,502 560,501.2Z"/>
<path fill="#c1c1c1" d="M513.8,527.5 520,525 525,526.2 531.2,527.5 537.5,526.2 538.8,535 535,540 530,545 522.5,550 518.8,548.8 513.8,543.8 512.5,535Z"/>
<path fill="#c1c1c1" d="M540,550 545,540 547.5,550 546.2,553.8 540,553.8Z"/>
<path fill="#c1c1c1" d="M573.8,512.5 583.8,511.2 585,515 582.5,522.5 573.8,523Z"/>
<path fill="#c1c1c1" d="M595,533.8 600,530 605,530 608.8,536.2 605,541.2 598.8,542.5 595,538.8Z"/>
<path fill="#c1c1c1" d="M583.8,547.5 590,546.2 591.2,555 585,556.2Z"/>
<path fill="#c1c1c1" d="M600,553.8 607.5,553.8 608.8,560 605,566.2 600,560Z"/>
<path fill="#c1c1c1" d="M595,577.5 600,577.5 602.5,585 598.8,587.5 593.8,582.5Z"/>
<path fill="#c1c1c1" d="M552.5,587.5 560,588.8 563.8,590 563.8,600 562.5,602.5 552.5,601.2 552.5,595Z"/>
<path fill="#c1c1c1" d="M467,538.5 473.5,538 474,545 469,546 466.5,543Z"/>
<path fill="#c1c1c1" d="M481.5,540 487.5,539.5 488,547 482,548Z"/>
<path fill="#c1c1c1" d="M486,520.5 492,521 494,526 489,527 486,524.5Z"/>
<path fill="#c1c1c1" d="M480.5,506.5 485,506 486.5,511 482,512Z"/>
<path fill="#c1c1c1" d="M517.5,508 521,508.5 522,512.5 518,513Z"/>
<path fill="#c1c1c1" d="M446,513.5 451,513 454,518 448,519 446.5,516Z"/>
<path fill="#c1c1c1" d="M455,528 459,528 460,533 456,532.5Z"/>
<path fill="#c1c1c1" d="M462,500.5 465,500.5 465.5,504 462.5,504.5Z"/>
<path fill="#c1c1c1" d="M505,526 508,527 507.5,533 505,534Z"/>
<path fill="#c1c1c1" d="M551,517 554,516.5 554.5,523 551.5,523.5Z"/>
<path fill="#c1c1c1" d="M531,563.5 536,563 538,568 535,571 532,569Z"/>
<path fill="#c1c1c1" d="M548.5,563 552,562.5 551.5,568 548,569Z"/>
<path fill="#c1c1c1" d="M564,571 570,570.5 571,576 566,577Z"/>
<path fill="#c1c1c1" d="M581,565 586,565 586.5,569.5 582,570Z"/>
<path fill="#c1c1c1" d="M526.5,550 531,550 531,554.5 527,554.5Z"/>
<path fill="#c1c1c1" d="M575,597 580,596 582,600.5 577,603Z"/>
<path fill="#c1c1c1" d="M592.5,596 595,596.5 595,604 593,603.5Z"/>
<path fill="#c1c1c1" d="M551.5,618.5 556,618.5 554,624Z"/>
<path fill="#c1c1c1" d="M569,616.5 574,618 575,621.5 570,622.5Z"/>
<path fill="#c1c1c1" d="M601.5,612 605,611.5 604,618 601,622Z"/>
<path fill="#c1c1c1" d="M619.5,614.5 621,614.5 621.5,620 619,623.5Z"/>
<path fill="#c1c1c1" d="M636,617 639.5,617 639.5,621.5 636.5,622.5Z"/>
<path fill="#c1c1c1" d="M666.5,440 670,440 669.5,447 668,451Z"/>
<path fill="#2d68b3" d="M555.8,643.3 557.5,642.5 562.5,640.8 563,634.2 564.2,639.2 568.3,635.8 573.3,632.5 578.3,628.3 583.3,627 585.8,629.2 586.7,633.3 585,637.5 588.3,640 585.8,643.3 581.7,648.3 576.7,653.3 570,657.5 563.3,659.2 559.2,659.2 557.5,655 556.7,650Z"/>
<path fill="#c1c1c1" d="M597.5,635 599,635 599.5,638.5 597.5,638.5Z"/>
<path fill="#c1c1c1" d="M559.5,409.5 562,410.5 562,413 559.5,412Z"/>
<ellipse cx="361" cy="151" rx="3.5" ry="1.8" fill="#c1c1c1"/>
<ellipse cx="463.8" cy="502.5" rx="1.8" ry="1.8" fill="#c1c1c1"/>
<ellipse cx="586.7" cy="615.3" rx="1.6" ry="1.6" fill="#c1c1c1"/>
<ellipse cx="582.5" cy="578.7" rx="1.4" ry="1.4" fill="#c1c1c1"/>
<ellipse cx="617.5" cy="606.2" rx="1.2" ry="1.2" fill="#1a1a1a" stroke="none"/>
<ellipse cx="632.5" cy="598.7" rx="1.2" ry="1.2" fill="#1a1a1a" stroke="none"/>
<ellipse cx="598.7" cy="513.7" rx="1.3" ry="1.3" fill="#1a1a1a" stroke="none"/>
<ellipse cx="610" cy="522.5" rx="1.2" ry="1.2" fill="#1a1a1a" stroke="none"/>
<ellipse cx="561.3" cy="541.3" rx="1.3" ry="1.8" fill="#1a1a1a" stroke="none"/>
<ellipse cx="450" cy="541.3" rx="1.8" ry="1.8" fill="#c1c1c1"/>
<ellipse cx="458.7" cy="550" rx="1.2" ry="1.2" fill="#1a1a1a" stroke="none"/>
<ellipse cx="437.5" cy="525" rx="2.2" ry="1" fill="#1a1a1a" stroke="none"/>
<ellipse cx="445" cy="528.7" rx="1" ry="1" fill="#1a1a1a" stroke="none"/>
<ellipse cx="441" cy="511" rx="1" ry="1" fill="#1a1a1a" stroke="none"/>
<ellipse cx="445" cy="517.5" rx="1" ry="1" fill="#1a1a1a" stroke="none"/>
<ellipse cx="496.2" cy="538.7" rx="0.9" ry="2.4" fill="#1a1a1a" stroke="none"/>
<ellipse cx="420" cy="550" rx="0.7" ry="0.7" fill="#1a1a1a" stroke="none"/>
<ellipse cx="598.7" cy="637.5" rx="1" ry="1" fill="#1a1a1a" stroke="none"/>
<ellipse cx="593.8" cy="653.8" rx="1.5" ry="1.5" fill="#1a1a1a" stroke="none"/>
<ellipse cx="274.2" cy="368.7" rx="1.2" ry="1.2" fill="#1a1a1a" stroke="none"/>
<ellipse cx="289" cy="373.3" rx="3.5" ry="1.4" fill="#1a1a1a" stroke="none"/>
<ellipse cx="300" cy="380.8" rx="1.5" ry="1" fill="#1a1a1a" stroke="none"/>
<ellipse cx="302.5" cy="384.2" rx="1" ry="1" fill="#1a1a1a" stroke="none"/>
<ellipse cx="339.2" cy="410" rx="1.8" ry="1.2" fill="#1a1a1a" stroke="none"/>
<ellipse cx="350" cy="420.8" rx="0.9" ry="1.8" fill="#1a1a1a" stroke="none"/>
<ellipse cx="350" cy="425.8" rx="1" ry="1" fill="#1a1a1a" stroke="none"/>
<ellipse cx="356.7" cy="422.5" rx="1.8" ry="1" fill="#1a1a1a" stroke="none"/>
<ellipse cx="360.8" cy="425" rx="1.2" ry="1.2" fill="#1a1a1a" stroke="none"/>
<ellipse cx="368.3" cy="420.8" rx="1" ry="2.8" fill="#1a1a1a" stroke="none"/>
<ellipse cx="239.2" cy="415" rx="1.2" ry="1" fill="#1a1a1a" stroke="none"/>
<ellipse cx="240.8" cy="418.3" rx="1" ry="1" fill="#1a1a1a" stroke="none"/>
<ellipse cx="244.2" cy="429.2" rx="0.8" ry="2" fill="#1a1a1a" stroke="none"/>
<ellipse cx="251.7" cy="435" rx="1.5" ry="1.5" fill="#c1c1c1"/>
<ellipse cx="241.7" cy="440" rx="1" ry="1.5" fill="#1a1a1a" stroke="none"/>
<ellipse cx="246.7" cy="442.5" rx="1.5" ry="1" fill="#1a1a1a" stroke="none"/>
<ellipse cx="274.6" cy="368.8" rx="1" ry="1" fill="#1a1a1a" stroke="none"/>
<ellipse cx="287" cy="373" rx="2" ry="1" fill="#1a1a1a" stroke="none"/>
<ellipse cx="301.7" cy="381.3" rx="1" ry="1" fill="#1a1a1a" stroke="none"/>
<ellipse cx="162.3" cy="545.7" rx="1.8" ry="1.4" fill="#1a1a1a" stroke="none"/>
<ellipse cx="146.7" cy="630.3" rx="1.2" ry="1" fill="#1a1a1a" stroke="none"/>
<ellipse cx="143.4" cy="634.7" rx="0.8" ry="0.8" fill="#1a1a1a" stroke="none"/>
<ellipse cx="143.4" cy="640.3" rx="0.8" ry="0.8" fill="#1a1a1a" stroke="none"/>
<ellipse cx="754" cy="241.3" rx="1.3" ry="1.1" fill="#1a1a1a" stroke="none"/>
<ellipse cx="807.5" cy="531" rx="0.8" ry="1.5" fill="#1a1a1a" stroke="none"/>
<ellipse cx="808.5" cy="535.5" rx="0.8" ry="1.5" fill="#1a1a1a" stroke="none"/>
<ellipse cx="809" cy="547" rx="0.8" ry="1.2" fill="#1a1a1a" stroke="none"/>
<ellipse cx="879.5" cy="528" rx="0.8" ry="6" fill="#1a1a1a" stroke="none"/>
<ellipse cx="882.5" cy="548.5" rx="0.9" ry="2.5" fill="#1a1a1a" stroke="none"/>
<ellipse cx="1106" cy="570.5" rx="0.8" ry="0.8" fill="#1a1a1a" stroke="none"/>
<ellipse cx="1109" cy="575" rx="0.8" ry="0.8" fill="#1a1a1a" stroke="none"/>
<ellipse cx="1112" cy="583" rx="0.8" ry="0.8" fill="#1a1a1a" stroke="none"/>
<ellipse cx="1004.5" cy="537.8" rx="1.6" ry="0.8" fill="#1a1a1a" stroke="none"/>
<ellipse cx="1008.5" cy="536" rx="0.8" ry="0.8" fill="#1a1a1a" stroke="none"/>
<ellipse cx="631.6" cy="372.9" rx="0.9" ry="0.9" fill="#1a1a1a" stroke="none"/>
<ellipse cx="635.9" cy="377.2" rx="0.9" ry="0.9" fill="#1a1a1a" stroke="none"/>
<ellipse cx="635.3" cy="381.5" rx="0.9" ry="0.9" fill="#1a1a1a" stroke="none"/>
<ellipse cx="639" cy="384.6" rx="0.9" ry="0.9" fill="#1a1a1a" stroke="none"/>
<ellipse cx="633.4" cy="388.8" rx="0.9" ry="0.9" fill="#1a1a1a" stroke="none"/>
<ellipse cx="643.2" cy="393.8" rx="0.9" ry="1.5" fill="#1a1a1a" stroke="none"/>
<g id="canclutter">
<path d="M129.5,196 L138,193.5 L146,191.5 L152,189 L158,187.5 L164,188 L169,190.5 L166,194 L163.5,198 L166,201.5 L170,205.5 L166,208 L159,207.5 L152,206.5 L145,206.5 L137,206 L131,204 L129,200 Z" fill="#3a1612" fill-opacity="0.55" stroke="none"/>
<g fill="#ff3a1e" stroke="none">
<ellipse cx="134" cy="200" rx="2.2" ry="1.2"/><ellipse cx="141" cy="198" rx="2" ry="1"/><ellipse cx="147" cy="203" rx="2.5" ry="1.2"/>
<ellipse cx="153" cy="199" rx="2" ry="1.2"/><ellipse cx="158" cy="193" rx="2.2" ry="1"/><ellipse cx="163" cy="190" rx="2" ry="1"/>
<ellipse cx="139" cy="204" rx="1.8" ry="0.9"/><ellipse cx="156" cy="204" rx="1.8" ry="1"/><ellipse cx="149" cy="195" rx="1.6" ry="0.9"/>
<ellipse cx="166" cy="205" rx="1.5" ry="1"/>
</g>
<g fill="none" stroke="#1a1010" stroke-width="1.4" stroke-linecap="round">
<path d="M130,197.5 L136,196 L142,196.5 L148,195.5 L153,196.5 L158,198.5 L162,199"/>
<path d="M133,201.5 L139,200.5 L145,201.5 L151,200.5 L156,202.5 L160,204"/>
<path d="M139,193.5 L146,193 L152,192.5 L158,192 L163,193.5"/>
<path d="M165,201 L169,204 L171,207"/>
<path d="M167,216 L170,214 L172,217" stroke-width="1"/>
<path d="M172,226 L176,229 L180,229.5" stroke-width="1.2"/>
<path d="M168,211 L173,212" stroke-width="1"/>
</g>
</g>
<g id="phl" fill="none" stroke="#1a1a1a" stroke-width="0.9">
<path d="M1010,503 L1016,505 L1020,503"/><path d="M1011,509 L1017,508 L1021,512"/><path d="M1013,514 L1018,514"/><path d="M1015,500 L1015,506"/>
</g>
<g id="bahamas" fill="none" stroke="#1a1a1a" stroke-width="1.6" stroke-linecap="round" stroke-linejoin="round">
<path d="M168.8,369.8 L171.5,370.5 L173.5,372.5 L175.5,374.5 L178,376.5 L180.5,379 L182.5,381.5 L185,384 L187,385.5"/>
<path d="M170.8,376 L171.8,380.5"/>
<path d="M184.2,390.8 L186,388.6"/>
</g>

</g>
<text x="855.01" y="170" font-size="36.86" font-style="italic" textLength="278.28" lengthAdjust="spacingAndGlyphs" fill="#1e2a8c">Countries resized</text>
<text x="890.04" y="212.7" font-size="35.65" font-style="italic" textLength="209.45" lengthAdjust="spacingAndGlyphs" fill="#1e2a8c">by PPP-GDP</text>
<text x="183.3" y="219.5" font-size="27.86" textLength="59.12" lengthAdjust="spacingAndGlyphs" fill="#000">CAN</text>
<text x="691.11" y="241.7" font-size="28.14" textLength="57.91" lengthAdjust="spacingAndGlyphs" fill="#000">RUS</text>
<text x="116.46" y="738.7" font-size="24.29" textLength="87.79" lengthAdjust="spacingAndGlyphs" fill="#000">&lt; 0.125</text>
<text x="260.96" y="732.5" font-size="25.0" textLength="152.78" lengthAdjust="spacingAndGlyphs" fill="#000">0.125 to 0.25</text>
<text x="438.97" y="726.8" font-size="25.07" textLength="151.72" lengthAdjust="spacingAndGlyphs" fill="#000">0.25 to 0.375</text>
<text x="620.92" y="720.75" font-size="25.07" textLength="137.02" lengthAdjust="spacingAndGlyphs" fill="#000">0.375 to 0.5</text>
<text x="796.96" y="716.5" font-size="24.64" textLength="138.23" lengthAdjust="spacingAndGlyphs" fill="#000">0.5 to 0.625</text>
<text x="1023.9" y="709.75" font-size="25.36" textLength="36.65" lengthAdjust="spacingAndGlyphs" fill="#000">1.0</text>
<text x="133.95" y="790" font-size="29.71" textLength="932.61" lengthAdjust="spacingAndGlyphs" fill="#000">Relative Output Losses (percent, relative to US deviation from baseline)</text>
<text x="51.71" y="845" font-size="28.14" textLength="1072.9" lengthAdjust="spacingAndGlyphs" fill="#262626">NOTE: Estimated output losses from fiscal consolidation, with confidence effects and</text>
<text x="0" y="877.5" font-size="28.14" fill="#262626" transform="translate(51.71,0) scale(1.017,1) translate(0,0)">without monetary accommodation.</text>
</svg>
</body></html>
